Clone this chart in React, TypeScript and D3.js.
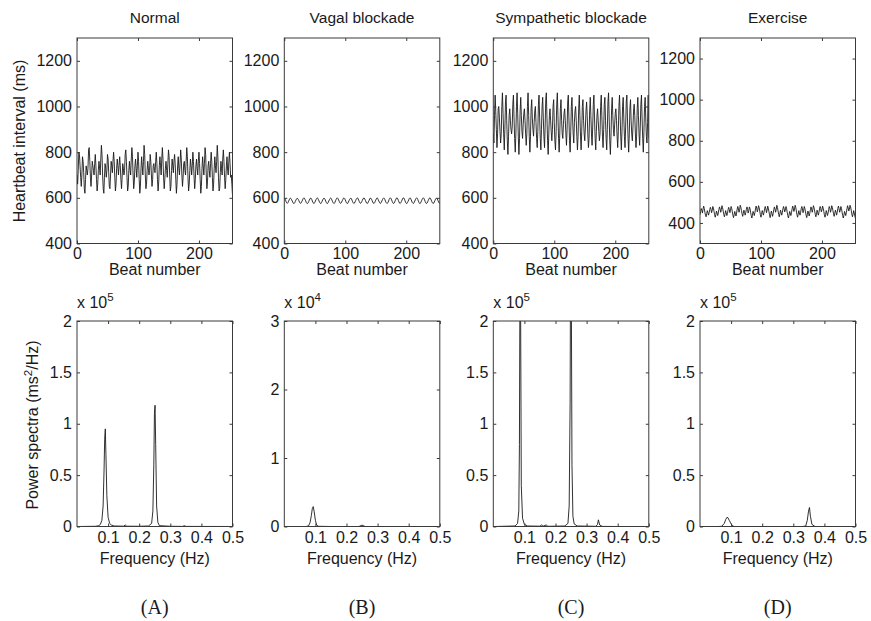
import React, { useEffect, useRef } from "react";
import * as d3 from "d3";

const titles = ["Normal", "Vagal blockade", "Sympathetic blockade", "Exercise"];
const panelLetters = ["(A)", "(B)", "(C)", "(D)"];
const rrTicks = [400, 600, 800, 1000, 1200];
const beatTicks = [0, 100, 200];
const freqTicks = [0.1, 0.2, 0.3, 0.4, 0.5];

// heartbeat intervals (ms), one value per beat
const normalRR = [
  700, 660, 720, 800, 790, 740, 690, 650, 700, 780, 760, 710, 640, 620, 680, 740,
  720, 700, 730, 810, 820, 760, 690, 650, 700, 760, 740, 720, 700, 750, 790, 740,
  680, 630, 660, 720, 760, 730, 700, 770, 830, 790, 700, 640, 620, 690, 750, 730,
  690, 720, 790, 770, 710, 650, 640, 700, 760, 740, 710, 760, 800, 760, 690, 630,
  660, 730, 770, 740, 700, 740, 780, 740, 680, 640, 690, 750, 730, 700, 720, 790,
  810, 760, 690, 630, 650, 720, 760, 720, 700, 770, 820, 780, 700, 640, 670, 740,
  770, 730, 690, 740, 800, 760, 680, 620, 650, 730, 780, 740, 700, 760, 830, 790,
  700, 640, 660, 720, 760, 730, 700, 720, 790, 760, 700, 650, 680, 740, 750, 720,
  710, 760, 800, 750, 680, 630, 670, 740, 780, 740, 700, 770, 820, 770, 690, 640,
  680, 730, 760, 720, 690, 750, 810, 780, 700, 630, 650, 720, 770, 740, 710, 760,
  790, 750, 680, 620, 660, 740, 780, 730, 700, 750, 810, 770, 700, 650, 690, 750,
  760, 720, 700, 760, 820, 780, 690, 630, 660, 720, 770, 740, 700, 740, 800, 760,
  690, 640, 680, 740, 770, 730, 700, 760, 800, 750, 680, 620, 650, 730, 780, 740,
  700, 750, 820, 790, 700, 640, 670, 740, 760, 720, 690, 750, 800, 760, 690, 630,
  660, 730, 780, 740, 710, 760, 830, 780, 690, 630, 640, 710, 760, 730, 700, 770,
  810, 760, 690, 640, 680, 740, 780, 720, 700, 760, 800, 750, 690, 700, 660, 610,
];

const vagalRR = [
  600, 596, 590, 583, 578, 576, 579, 585, 591, 596, 599, 597, 592, 586, 580, 576,
  575, 578, 584, 590, 595, 598, 597, 593, 587, 581, 577, 576, 579, 585, 591, 597,
  600, 598, 593, 587, 580, 576, 575, 578, 584, 590, 595, 599, 598, 593, 586, 580,
  576, 576, 580, 586, 592, 597, 600, 598, 592, 586, 580, 576, 575, 579, 585, 591,
  596, 599, 597, 592, 585, 579, 575, 576, 580, 586, 592, 597, 599, 597, 591, 585,
  579, 576, 576, 580, 587, 593, 598, 600, 597, 591, 585, 579, 576, 577, 581, 587,
  593, 598, 600, 597, 591, 584, 578, 575, 576, 581, 587, 593, 597, 599, 596, 590,
  583, 578, 575, 577, 582, 588, 594, 598, 600, 596, 590, 583, 578, 576, 578, 583,
  589, 595, 599, 599, 595, 589, 582, 577, 575, 577, 583, 589, 595, 599, 598, 594,
  588, 581, 577, 575, 578, 584, 590, 596, 600, 598, 593, 586, 580, 576, 576, 580,
  586, 592, 597, 600, 597, 592, 585, 579, 576, 576, 580, 586, 593, 598, 600, 597,
  591, 584, 578, 575, 577, 582, 588, 594, 599, 600, 596, 589, 582, 577, 575, 578,
  584, 590, 596, 600, 599, 594, 587, 580, 576, 575, 579, 585, 591, 597, 600, 598,
  592, 586, 579, 576, 576, 580, 586, 592, 597, 600, 598, 592, 585, 579, 575, 576,
  581, 587, 593, 598, 600, 597, 591, 584, 578, 575, 577, 582, 588, 594, 599, 600,
  596, 590, 583, 578, 575, 577, 582, 588, 594, 598, 599, 595, 588, 582, 577, 575,
];

const sympRR = [
  880, 840, 960, 1050, 980, 900, 820, 880, 990, 1000, 950, 890, 840, 880, 1000, 1060,
  970, 880, 810, 900, 1020, 1050, 940, 850, 790, 870, 960, 990, 940, 900, 880, 910,
  1010, 1050, 950, 860, 800, 880, 1000, 1060, 970, 870, 790, 860, 980, 1040, 960, 890,
  860, 920, 970, 990, 940, 880, 830, 880, 1000, 1060, 960, 870, 800, 870, 990, 1030,
  950, 900, 870, 930, 980, 1000, 930, 860, 820, 890, 1010, 1050, 950, 860, 810, 900,
  1000, 1040, 950, 870, 820, 910, 1030, 1060, 950, 850, 790, 880, 960, 990, 940, 890,
  850, 900, 1000, 1030, 930, 850, 810, 890, 1010, 1060, 960, 860, 800, 880, 990, 1030,
  940, 880, 860, 920, 970, 990, 940, 880, 830, 900, 1020, 1050, 950, 850, 800, 890,
  1000, 1040, 950, 880, 840, 930, 980, 1000, 940, 870, 810, 870, 990, 1050, 960, 870,
  810, 890, 1000, 1030, 940, 880, 850, 910, 980, 1020, 960, 880, 820, 860, 980, 1040,
  960, 880, 830, 910, 1010, 1050, 950, 860, 810, 890, 960, 990, 940, 890, 850, 880,
  1000, 1050, 960, 870, 820, 900, 1010, 1040, 940, 860, 810, 900, 1020, 1060, 950, 850,
  790, 870, 990, 1040, 960, 900, 870, 920, 970, 990, 940, 870, 820, 890, 1000, 1050,
  960, 870, 810, 890, 1000, 1040, 950, 870, 820, 910, 1020, 1050, 950, 860, 800, 880,
  990, 1030, 940, 880, 850, 910, 980, 1010, 960, 880, 820, 870, 990, 1040, 960, 880,
  830, 910, 1010, 1050, 950, 860, 800, 890, 1000, 1040, 950, 870, 840, 930, 1050, 860,
];

const exerciseRR = [
  440, 455, 470, 462, 448, 468, 482, 470, 452, 438, 430, 445, 460, 450, 438, 450,
  465, 476, 466, 450, 462, 480, 472, 456, 440, 428, 440, 458, 448, 436, 448, 466,
  478, 468, 452, 465, 484, 474, 458, 442, 430, 442, 460, 450, 436, 446, 464, 476,
  466, 450, 462, 480, 470, 454, 438, 426, 440, 456, 446, 434, 448, 468, 480, 468,
  452, 466, 486, 476, 460, 444, 432, 446, 462, 452, 438, 450, 466, 478, 466, 448,
  460, 478, 470, 452, 436, 424, 438, 456, 448, 436, 450, 468, 482, 472, 454, 466,
  484, 474, 458, 440, 428, 442, 460, 450, 438, 452, 470, 480, 468, 450, 462, 482,
  472, 456, 440, 426, 440, 458, 446, 432, 446, 464, 478, 468, 452, 466, 486, 476,
  458, 442, 430, 444, 462, 452, 438, 450, 468, 480, 470, 454, 464, 480, 470, 452,
  436, 424, 438, 456, 448, 436, 450, 468, 482, 472, 456, 468, 486, 476, 458, 440,
  428, 442, 460, 450, 438, 452, 470, 480, 468, 450, 462, 480, 470, 454, 438, 426,
  440, 458, 448, 434, 446, 464, 478, 468, 452, 466, 484, 474, 458, 442, 430, 444,
  462, 452, 438, 450, 468, 480, 470, 454, 464, 482, 472, 456, 440, 428, 442, 460,
  450, 436, 448, 466, 480, 470, 452, 464, 484, 476, 460, 444, 432, 446, 462, 452,
  438, 452, 470, 482, 470, 452, 462, 480, 470, 452, 436, 424, 438, 456, 448, 436,
  450, 468, 484, 474, 458, 466, 486, 478, 462, 444, 430, 442, 460, 448, 434, 420,
];

// power spectra (ms^2/Hz) at the given frequencies (Hz)
const normalFreq = [0.004, 0.06, 0.07, 0.075, 0.08, 0.084, 0.087, 0.089, 0.091, 0.093, 0.096, 0.1, 0.105, 0.11, 0.12, 0.15, 0.155, 0.16, 0.2, 0.23, 0.24, 0.244, 0.247, 0.249, 0.251, 0.253, 0.256, 0.26, 0.265, 0.3, 0.34, 0.345, 0.35, 0.4, 0.5];
const normalPow = [0, 200, 800, 2000, 6000, 20000, 55000, 85000, 95000, 70000, 30000, 9000, 3000, 1500, 500, 300, 1500, 300, 200, 500, 3000, 15000, 60000, 110000, 118000, 80000, 20000, 4000, 800, 200, 100, 800, 100, 50, 0];

const vagalFreq = [0.004, 0.07, 0.078, 0.083, 0.087, 0.09, 0.093, 0.096, 0.1, 0.104, 0.11, 0.15, 0.24, 0.25, 0.26, 0.3, 0.5];
const vagalPow = [0, 0, 100, 600, 1600, 2600, 2900, 2200, 900, 200, 30, 0, 0, 200, 0, 0, 0];

const sympFreq = [0.004, 0.07, 0.078, 0.082, 0.084, 0.086, 0.088, 0.09, 0.094, 0.1, 0.11, 0.15, 0.155, 0.16, 0.17, 0.175, 0.18, 0.23, 0.24, 0.244, 0.247, 0.249, 0.251, 0.253, 0.256, 0.26, 0.27, 0.33, 0.335, 0.338, 0.342, 0.35, 0.4, 0.5];
const sympPow = [0, 500, 3000, 15000, 80000, 260000, 200000, 40000, 8000, 2000, 500, 300, 1500, 300, 1500, 300, 200, 500, 3000, 20000, 120000, 320000, 220000, 60000, 10000, 2500, 500, 200, 2000, 6500, 1500, 100, 0, 0];

const exerciseFreq = [0.004, 0.06, 0.07, 0.078, 0.083, 0.087, 0.09, 0.094, 0.1, 0.105, 0.11, 0.2, 0.33, 0.34, 0.345, 0.349, 0.352, 0.355, 0.36, 0.37, 0.5];
const exercisePow = [0, 0, 200, 3000, 7000, 9000, 8500, 6000, 2500, 500, 0, 0, 0, 500, 6000, 15000, 18500, 10000, 2000, 0, 0];

const rrDomains = [[400, 1300], [400, 1300], [400, 1300], [300, 1300]];
const powMax = [2, 3, 2, 2];
const powExp = [5, 4, 5, 5];
const powTicks = [[0, 0.5, 1, 1.5, 2], [0, 1, 2, 3], [0, 0.5, 1, 1.5, 2], [0, 0.5, 1, 1.5, 2]];

const FONT = "'Liberation Sans', Arial, Helvetica, sans-serif";

const App = () => {
  const ref = useRef<SVGSVGElement>(null);

  useEffect(() => {
    const svg = d3.select(ref.current);
    svg.selectAll("*").remove();

    const lefts = [77, 284.3, 493.3, 700];
    const w = 155.5;
    const topY = 38;
    const botY = 321;
    const h = 205.5;
    const rr = [normalRR, vagalRR, sympRR, exerciseRR];
    const freqs = [normalFreq, vagalFreq, sympFreq, exerciseFreq];
    const pows = [normalPow, vagalPow, sympPow, exercisePow];

    const styleAxis = (g: any) => {
      g.attr("font-size", 16).attr("font-family", FONT).attr("color", "#3a3a3a");
      g.select(".domain").remove();
      g.selectAll("text").attr("fill", "#1a1a1a");
    };

    const frame = (g: any, x: any, y: any, xt: number[], yt: number[], xf: any, yf: any, pad: number) => {
      g.append("g").attr("transform", `translate(0,${h})`)
        .call(d3.axisBottom(x).tickValues(xt).tickSizeInner(-3).tickSizeOuter(0).tickPadding(pad).tickFormat(xf))
        .call(styleAxis);
      g.append("g")
        .call(d3.axisTop(x).tickValues(xt).tickSizeInner(-3).tickSizeOuter(0).tickFormat(() => ""))
        .call(styleAxis);
      g.append("g")
        .call(d3.axisLeft(y).tickValues(yt).tickSizeInner(-3).tickSizeOuter(0).tickPadding(5).tickFormat(yf))
        .call(styleAxis);
      g.append("g").attr("transform", `translate(${w},0)`)
        .call(d3.axisRight(y).tickValues(yt).tickSizeInner(-3).tickSizeOuter(0).tickFormat(() => ""))
        .call(styleAxis);
      g.append("rect").attr("width", w).attr("height", h)
        .attr("fill", "none").attr("stroke", "#3a3a3a").attr("stroke-width", 1);
    };

    const text = (x: number, y: number, s: string, size = 16, anchor = "middle", family = FONT) =>
      svg.append("text").attr("x", x).attr("y", y).attr("text-anchor", anchor)
        .attr("font-family", family).attr("font-size", size).attr("fill", "#1a1a1a").text(s);

    for (let i = 0; i < 4; i++) {
      const cx = lefts[i] + w / 2;

      // heartbeat interval panel
      const gt = svg.append("g").attr("transform", `translate(${lefts[i]},${topY})`);
      const xb = d3.scaleLinear().domain([0, 255]).range([0, w]);
      const yr = d3.scaleLinear().domain(rrDomains[i]).range([h, 0]);
      gt.append("clipPath").attr("id", `ct${i}`).append("rect").attr("width", w).attr("height", h);
      gt.append("path").datum(rr[i])
        .attr("clip-path", `url(#ct${i})`)
        .attr("fill", "none").attr("stroke", "#1a1a1a").attr("stroke-width", 0.9)
        .attr("d", d3.line<number>().x((_, j) => xb(j)).y((d) => yr(d)));
      frame(gt, xb, yr, beatTicks, rrTicks, d3.format("d"), d3.format("d"), 4);

      text(cx, 23, titles[i], 15.5);
      text(cx, 275, "Beat number");

      // power spectrum panel
      const gb = svg.append("g").attr("transform", `translate(${lefts[i]},${botY})`);
      const xf = d3.scaleLinear().domain([0, 0.5]).range([0, w]);
      const scale = Math.pow(10, powExp[i]);
      const yp = d3.scaleLinear().domain([0, powMax[i]]).range([h, 0]);
      const pts = freqs[i].map((f, j) => [f, pows[i][j] / scale]);
      gb.append("clipPath").attr("id", `cb${i}`).append("rect").attr("width", w).attr("height", h);
      gb.append("path").datum(pts)
        .attr("clip-path", `url(#cb${i})`)
        .attr("fill", "none").attr("stroke", "#1a1a1a").attr("stroke-width", 0.9)
        .attr("d", d3.line<number[]>().x((d) => xf(d[0])).y((d) => yp(d[1])));
      frame(gb, xf, yp, freqTicks, powTicks[i], d3.format(""), d3.format(""), 5);

      // exponent label
      const ex = svg.append("text").attr("x", lefts[i]).attr("y", botY - 13)
        .attr("font-family", FONT).attr("font-size", 16).attr("fill", "#1a1a1a");
      ex.append("tspan").text("x 10");
      ex.append("tspan").attr("dy", -7).attr("font-size", 11.5).text(String(powExp[i]));

      text(cx, 564, "Frequency (Hz)");
      text(cx, 614, panelLetters[i], 20, "middle", "'Liberation Serif', 'Times New Roman', serif");
    }

    // y axis titles
    svg.append("text").attr("transform", "translate(25,141) rotate(-90)")
      .attr("text-anchor", "middle").attr("font-family", FONT).attr("font-size", 16)
      .attr("fill", "#1a1a1a").text("Heartbeat interval (ms)");
    const pl = svg.append("text").attr("transform", "translate(38,425) rotate(-90)")
      .attr("text-anchor", "middle").attr("font-family", FONT).attr("font-size", 16)
      .attr("fill", "#1a1a1a");
    pl.append("tspan").text("Power spectra (ms");
    pl.append("tspan").attr("dy", -6).attr("font-size", 11.5).text("2");
    pl.append("tspan").attr("dy", 6).text("/Hz)");
  }, []);

  return (
    <svg
      ref={ref}
      width={871}
      height={621}
      style={{ position: "absolute", left: 0, top: 0, background: "#fff" }}
    />
  );
};

export default App;
